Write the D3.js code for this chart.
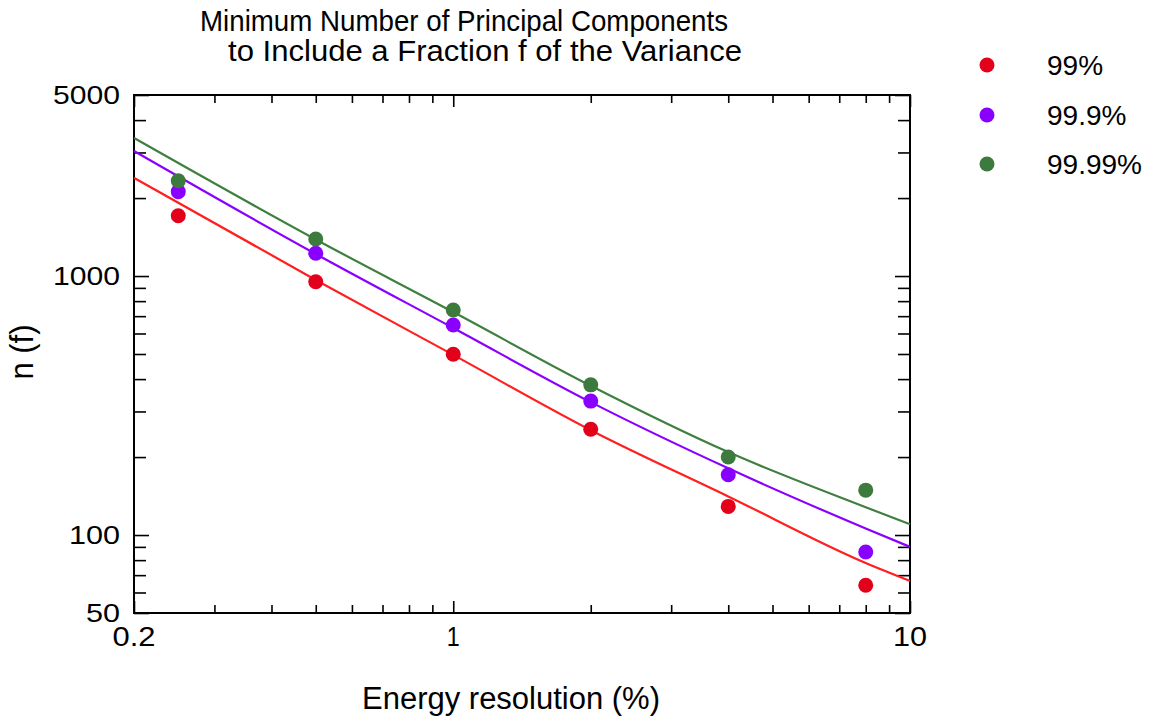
<!DOCTYPE html>
<meta charset="utf-8">
<style>
body { margin: 0; background: #fff; }
text { font-family: "Liberation Sans", Arial, Helvetica, sans-serif; fill: #000; }
.axis path { display: none; }
.axis line { stroke: #000; stroke-width: 1.6; }
</style>
<body>
<script src="https://d3js.org/d3.v7.min.js"></script>
<script>

// resolution (%) where the points were measured
var resolution = [0.25, 0.5, 1, 2, 4, 8];

// measured n(f) for each fraction
var n99    = [1710, 951, 499, 256, 129, 64];
var n999   = [2117, 1224, 647, 329, 171, 86];
var n9999  = [2334, 1390, 739, 380, 200, 149];

// fitted curves
var fitX     = [0.2, 0.5, 1, 2, 4, 8, 10];
var fit99    = [2393, 966, 496, 254, 141, 78, 66.5];
var fit999   = [3039, 1217, 630, 326, 181, 106, 90];
var fit9999  = [3412, 1384, 726, 377, 209, 128, 110];

var seriesNames = ["99%", "99.9%", "99.99%"];
var dotColors  = ["#e3001b", "#8a00ff", "#3d7a3d"];
var lineColors = ["#ff1f1f", "#8a00ff", "#3f7f3f"];

var xMajor = [0.2, 1, 10],
    xMinor = [0.3, 0.4, 0.5, 0.6, 0.7, 0.8, 0.9, 2, 3, 4, 5, 6, 7, 8, 9],
    yMajor = [50, 100, 1000, 5000],
    yMinor = [60, 70, 80, 90, 200, 300, 400, 500, 600, 700, 800, 900, 2000, 3000, 4000];

var width = 1156, height = 717;
var plot = {left: 134, right: 910, top: 95, bottom: 613};

var svg = d3.select("body").append("svg")
    .attr("width", width)
    .attr("height", height);

var x = d3.scaleLog().domain([0.2, 10]).range([plot.left, plot.right]);
var y = d3.scaleLog().domain([50, 5000]).range([plot.bottom, plot.top]);

// ticks on all four sides, pointing in
function tickAxis(axisFn, vals, size, transform) {
  svg.append("g")
      .attr("class", "axis")
      .attr("transform", transform)
      .call(axisFn.tickValues(vals).tickSize(size).tickFormat(""));
}
var pw = plot.right - plot.left, ph = plot.bottom - plot.top;
tickAxis(d3.axisBottom(x), xMajor, -12, "translate(0," + plot.bottom + ")");
tickAxis(d3.axisBottom(x), xMinor, -8, "translate(0," + plot.bottom + ")");
tickAxis(d3.axisTop(x), xMajor, -12, "translate(0," + plot.top + ")");
tickAxis(d3.axisTop(x), xMinor, -8, "translate(0," + plot.top + ")");
tickAxis(d3.axisLeft(y), yMajor, -15, "translate(" + plot.left + ",0)");
tickAxis(d3.axisLeft(y), yMinor, -12, "translate(" + plot.left + ",0)");
tickAxis(d3.axisRight(y), yMajor, -15, "translate(" + plot.right + ",0)");
tickAxis(d3.axisRight(y), yMinor, -12, "translate(" + plot.right + ",0)");

svg.append("rect")
    .attr("x", plot.left).attr("y", plot.top)
    .attr("width", pw).attr("height", ph)
    .attr("fill", "none").attr("stroke", "#000").attr("stroke-width", 2);

// tick labels (the original glyphs are drawn a little wide)
var xLabW = {"0.2": 43, "1": 13, "10": 34};
svg.selectAll(".xlab").data(xMajor).enter().append("text")
    .attr("x", function(d) { return x(d); })
    .attr("y", plot.bottom + 33)
    .attr("text-anchor", "middle")
    .attr("font-size", 27)
    .attr("textLength", function(d) { return xLabW[d]; })
    .attr("lengthAdjust", "spacingAndGlyphs")
    .text(function(d) { return d; });

var yLabW = {"50": 34, "100": 51, "1000": 67, "5000": 67};
svg.selectAll(".ylab").data(yMajor).enter().append("text")
    .attr("x", plot.left - 14)
    .attr("y", function(d) { return y(d) + 9; })
    .attr("text-anchor", "end")
    .attr("font-size", 26)
    .attr("textLength", function(d) { return yLabW[d]; })
    .attr("lengthAdjust", "spacingAndGlyphs")
    .text(function(d) { return d; });

// fitted lines
var fits = [fit99, fit999, fit9999];
var line = d3.line()
    .x(function(d) { return x(d[0]); })
    .y(function(d) { return y(d[1]); })
    .curve(d3.curveMonotoneX);

fits.forEach(function(f, k) {
  svg.append("path")
      .datum(fitX.map(function(v, i) { return [v, f[i]]; }))
      .attr("fill", "none")
      .attr("stroke", lineColors[k])
      .attr("stroke-width", 2.2)
      .attr("d", line);
});

// data points
var pts = [n99, n999, n9999];
pts.forEach(function(p, k) {
  svg.selectAll(".pt" + k).data(p).enter().append("circle")
      .attr("cx", function(d, i) { return x(resolution[i]); })
      .attr("cy", function(d) { return y(d); })
      .attr("r", 7.5)
      .attr("fill", dotColors[k]);
});

// title and axis titles
svg.append("text")
    .attr("x", 464).attr("y", 31)
    .attr("text-anchor", "middle").attr("font-size", 30)
    .attr("textLength", 528).attr("lengthAdjust", "spacingAndGlyphs")
    .text("Minimum Number of Principal Components");
svg.append("text")
    .attr("x", 485).attr("y", 61)
    .attr("text-anchor", "middle").attr("font-size", 30)
    .attr("textLength", 514).attr("lengthAdjust", "spacingAndGlyphs")
    .text("to Include a Fraction f of the Variance");

svg.append("text")
    .attr("x", 511).attr("y", 709)
    .attr("text-anchor", "middle").attr("font-size", 31)
    .attr("textLength", 298).attr("lengthAdjust", "spacingAndGlyphs")
    .text("Energy resolution (%)");

svg.append("text")
    .attr("transform", "translate(33,352) rotate(-90)")
    .attr("text-anchor", "middle").attr("font-size", 33)
    .attr("textLength", 55).attr("lengthAdjust", "spacingAndGlyphs")
    .text("n (f)");

// legend
var legend = svg.append("g").attr("class", "legend");
seriesNames.forEach(function(name, k) {
  var ly = [65, 115, 164][k];
  legend.append("circle")
      .attr("cx", 987).attr("cy", ly).attr("r", 7.5)
      .attr("fill", dotColors[k]);
  legend.append("text")
      .attr("x", 1047).attr("y", ly + 10)
      .attr("font-size", 28)
      .text(name);
});

</script>
